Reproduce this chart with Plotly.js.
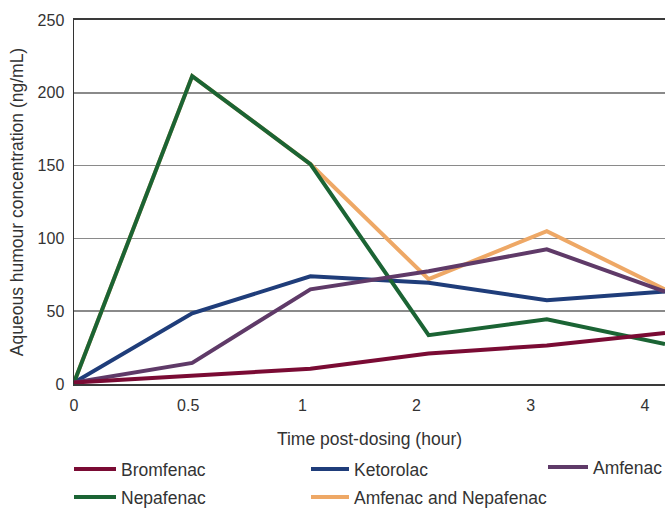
<!DOCTYPE html>
<html>
<head>
<meta charset="utf-8">
<script src="https://cdn.plot.ly/plotly-3.0.1.min.js"></script>
<style>html,body{margin:0;padding:0;background:#fff;}#chart{width:665px;height:508px;}</style>
</head>
<body>
<div id="chart"></div>
<script>
// Time points (hours), plotted as equally spaced positions
const timeLabels = ['0', '0.5', '1', '2', '3', '4'];
const bromfenac = [1, 5.5, 10.5, 21, 26.5, 35];
const ketorolac = [1, 48.5, 74, 69.5, 57.5, 63.5];
const amfenac = [1, 14.5, 65, 77.5, 92.5, 63.5];
const nepafenac = [1, 211.5, 151, 33.5, 44.5, 27.5];
const amfenacNepafenac = [1, 211.5, 151, 72, 105, 65];

const xIdx = timeLabels.map((_, i) => i);

function tr(name, y, color, legend) {
  return {
    type: 'scatter', mode: 'lines', name: name,
    x: xIdx, y: y,
    line: {color: color, width: 4},
    legend: legend,
    hoverinfo: 'skip'
  };
}

const data = [
  tr('Amfenac and Nepafenac', amfenacNepafenac, '#eea866', 'legend5'),
  tr('Ketorolac', ketorolac, '#1f3d7a', 'legend2'),
  tr('Nepafenac', nepafenac, '#1b6434', 'legend4'),
  tr('Amfenac', amfenac, '#5f3a68', 'legend3'),
  tr('Bromfenac', bromfenac, '#7a0b34', 'legend')
];

const fontFam = 'Liberation Sans, Arial, sans-serif';
function leg(xPx, yPx, iw) {
  return {
    orientation: 'h', xref: 'container', yref: 'container',
    xanchor: 'left', yanchor: 'middle',
    x: xPx / 665, y: 1 - yPx / 508,
    font: {family: fontFam, size: 17.5, color: '#333'},
    bgcolor: 'rgba(0,0,0,0)', borderwidth: 0,
    itemwidth: iw
  };
}

const layout = {
  width: 665, height: 508,
  margin: {l: 74, r: 0, t: 20, b: 124, pad: 0},
  paper_bgcolor: '#fff', plot_bgcolor: '#fff',
  font: {family: fontFam, color: '#333'},
  showlegend: true,
  xaxis: {
    range: [0, 5],
    tickvals: timeLabels.map((_, i) => i * 0.966),
    ticktext: timeLabels,
    showgrid: false, zeroline: false,
    showline: true, mirror: true, linecolor: '#3a3a3a', linewidth: 2,
    ticks: '', ticklabelstandoff: 6,
    tickfont: {family: fontFam, size: 16, color: '#333'},
    title: {text: 'Time post-dosing (hour)', font: {family: fontFam, size: 17.5, color: '#333'}, standoff: 34},
    fixedrange: true
  },
  yaxis: {
    range: [0, 250],
    tickvals: [0, 50, 100, 150, 200, 250],
    showgrid: true, gridcolor: '#8a8a8a', gridwidth: 1.5,
    zeroline: false,
    showline: true, linecolor: '#333', linewidth: 1.5,
    ticks: '', ticklabelstandoff: 5,
    tickfont: {family: fontFam, size: 16, color: '#333'},
    title: {text: 'Aqueous humour concentration (ng/mL)', font: {family: fontFam, size: 17.5, color: '#333'}, standoff: 9},
    fixedrange: true
  },
  legend: leg(69, 469, 42),
  legend2: leg(306, 469, 38),
  legend3: leg(543, 467, 40),
  legend4: leg(69, 497, 42),
  legend5: leg(306, 497, 38)
};

Plotly.newPlot('chart', data, layout, {displayModeBar: false, staticPlot: true});
</script>
</body>
</html>
